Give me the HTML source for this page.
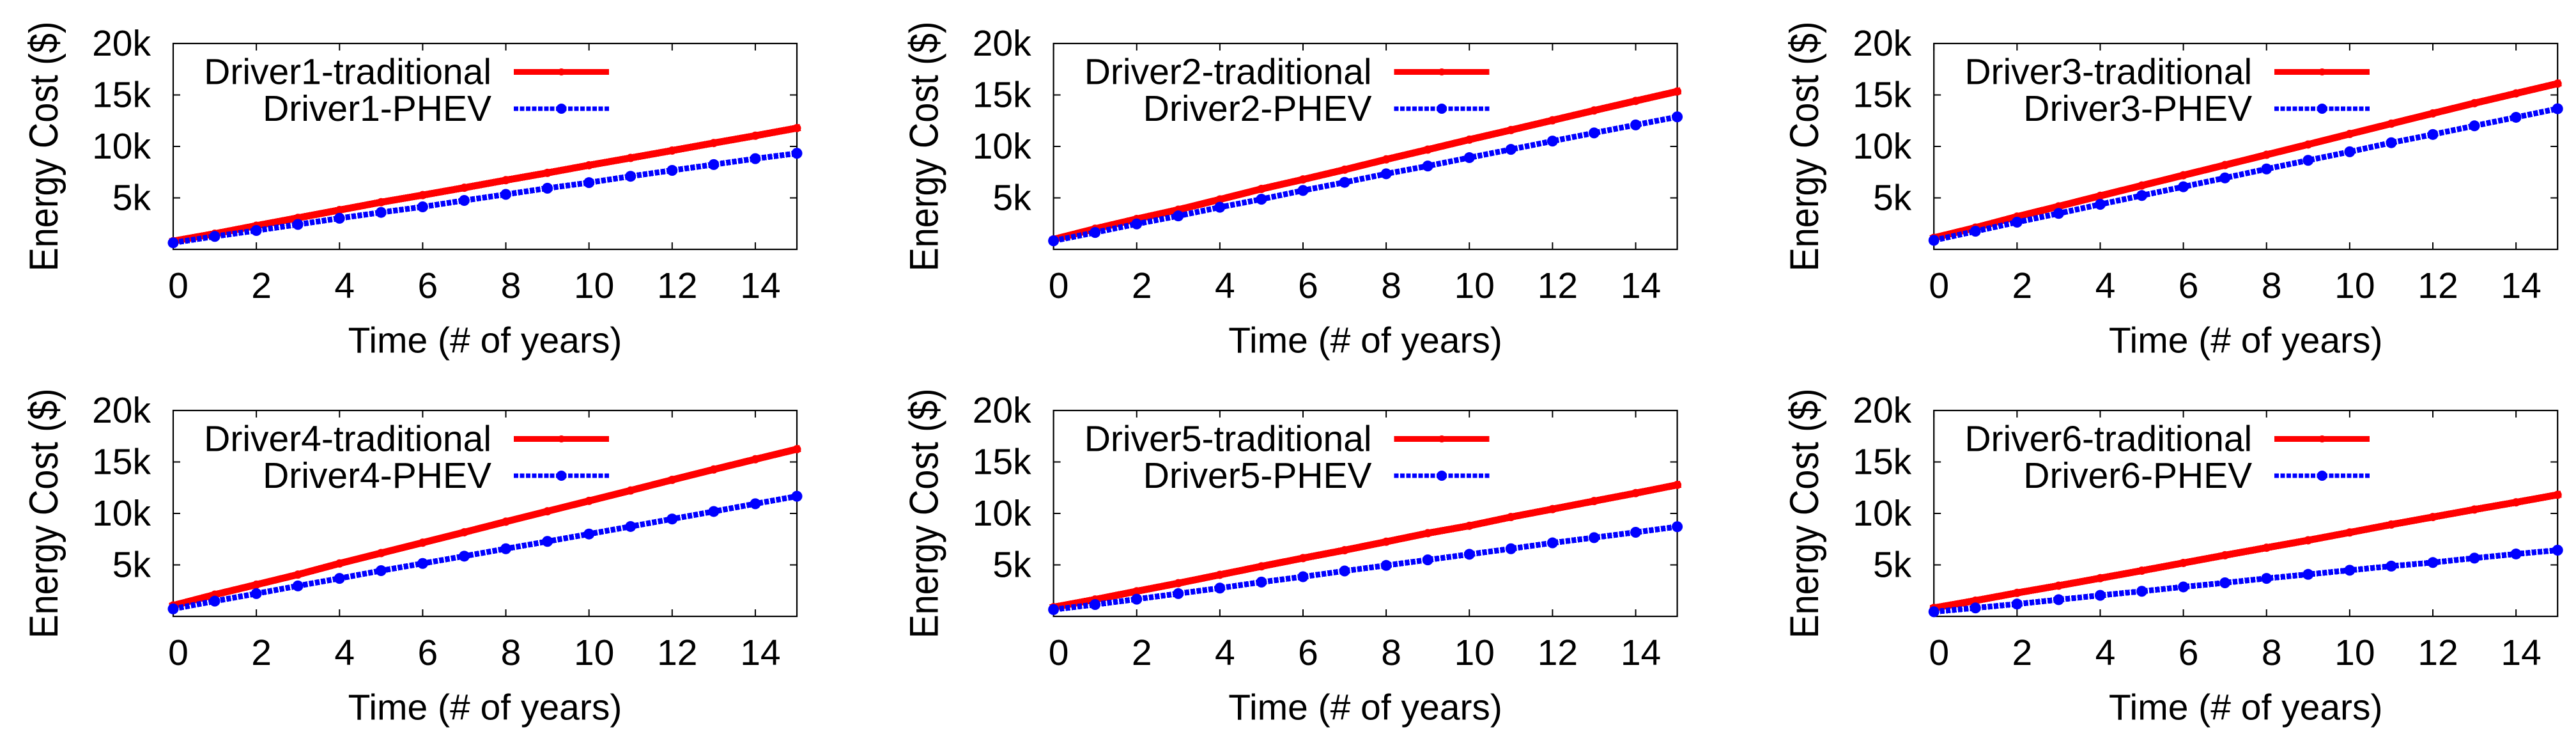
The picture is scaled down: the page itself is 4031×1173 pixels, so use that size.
<!DOCTYPE html>
<html lang="en">
<head>
<meta charset="utf-8">
<title>Energy cost: traditional vs PHEV for six drivers</title>
<style>
html,body{margin:0;padding:0;background:#fff;width:4031px;height:1173px;overflow:hidden}
svg{display:block}
text{font-family:"Liberation Sans",Arial,sans-serif;fill:#000;font-size:57px}
</style>
</head>
<body>
<svg id="chart" xmlns="http://www.w3.org/2000/svg" width="4031" height="1173" viewBox="0 0 4031 1173"></svg>
<script>
const years = [0,1,2,3,4,5,6,7,8,9,10,11,12,13,14,15];
const xTickValues = [0,2,4,6,8,10,12,14];
const xTickLabels = ['0','2','4','6','8','10','12','14'];
const yTickValues = [5000,10000,15000,20000];
const yTickLabels = ['5k','10k','15k','20k'];
const xAxisTitle = 'Time (# of years)';
const yAxisTitle = 'Energy Cost ($)';
const traditionalLabels = ['Driver1-traditional','Driver2-traditional','Driver3-traditional','Driver4-traditional','Driver5-traditional','Driver6-traditional'];
const phevLabels = ['Driver1-PHEV','Driver2-PHEV','Driver3-PHEV','Driver4-PHEV','Driver5-PHEV','Driver6-PHEV'];

const traditional1 = [800,1520,2300,3060,3820,4580,5270,5985,6720,7430,8170,8880,9600,10330,11040,11780];
const phev1 = [640,1260,1830,2420,3020,3590,4130,4750,5340,5940,6480,7100,7670,8240,8810,9330];
const traditional2 = [970,2000,2950,3850,4850,5870,6790,7740,8740,9690,10660,11590,12540,13490,14420,15340];
const phev2 = [830,1640,2470,3250,4090,4870,5720,6510,7340,8100,8910,9710,10520,11310,12090,12870];
const traditional3 = [1120,2110,3180,4180,5200,6200,7200,8190,9190,10190,11210,12210,13210,14200,15150,16100];
const phev3 = [880,1760,2640,3490,4370,5230,6080,6940,7810,8650,9480,10360,11160,12000,12830,13660];
const traditional4 = [1060,2110,3080,4060,5140,6150,7160,8170,9200,10210,11220,12230,13260,14270,15260,16240];
const phev4 = [730,1480,2210,2960,3690,4440,5140,5850,6570,7280,8000,8730,9460,10190,10940,11670];
const traditional5 = [890,1640,2440,3220,4040,4860,5660,6430,7250,8080,8800,9650,10420,11200,11970,12770];
const phev5 = [660,1150,1670,2210,2750,3330,3850,4410,4950,5490,6030,6570,7140,7650,8170,8710];
const traditional6 = [820,1530,2280,2980,3710,4440,5190,5940,6670,7390,8150,8920,9650,10380,11080,11810];
const phev6 = [450,820,1200,1620,2040,2440,2860,3260,3690,4080,4480,4880,5230,5660,6060,6430];

const traditionalSeries = [traditional1,traditional2,traditional3,traditional4,traditional5,traditional6];
const phevSeries = [phev1,phev2,phev3,phev4,phev5,phev6];

const SVG_NS = 'http://www.w3.org/2000/svg';
const root = document.getElementById('chart');
const plotWidth = 976, plotHeight = 322;
const xMax = 15, yMax = 20000;
const RED = '#ff0000', BLUE = '#0000ff';

function make(tag, parent, attrs, content) {
  const node = document.createElementNS(SVG_NS, tag);
  for (const key in attrs) node.setAttribute(key, attrs[key]);
  if (content !== undefined) node.textContent = content;
  parent.appendChild(node);
  return node;
}
function panelLeft(col) { return 271 + col * 1377.6; }
function panelTop(row) { return 68 + row * 574; }
function xScale(left, v) { return left + v / xMax * plotWidth; }
function yScale(top, v) { return top + plotHeight - v / yMax * plotHeight; }

function drawSeries(parent, left, top, values, kind) {
  const isRed = kind === 'traditional';
  const pts = values.map((v, i) => xScale(left, years[i]).toFixed(2) + ',' + yScale(top, v).toFixed(2)).join(' ');
  const line = make('polyline', parent, {
    points: pts, fill: 'none', stroke: isRed ? RED : BLUE,
    'stroke-width': isRed ? 11 : 9,
    'stroke-linecap': isRed ? 'square' : 'butt',
    'stroke-linejoin': 'miter',
    'stroke-dasharray': isRed ? 'none' : '7.3 2.1',
    'shape-rendering': 'crispEdges'
  });
  
  
  values.forEach((v, i) => {
    const dot = make('circle', parent, {
      cx: xScale(left, years[i]).toFixed(2), cy: yScale(top, v).toFixed(2),
      r: isRed ? 6.5 : 8.5, fill: isRed ? RED : BLUE
    });
    
    
  });
}

function drawLegendEntry(parent, left, top, label, kind, offset) {
  const isRed = kind === 'traditional';
  const g = make('g', parent, {});
  
  
  const t = make('text', g, { x: left + 498, y: top + offset + 19, 'text-anchor': 'end' }, label);
  
  
  const sample = make('line', g, {
    x1: left + 533, x2: left + 682, y1: top + offset, y2: top + offset,
    stroke: isRed ? RED : BLUE, 'stroke-width': isRed ? 9 : 7,
    'stroke-dasharray': isRed ? 'none' : '7 2.45',
    'shape-rendering': 'crispEdges'
  });
  
  
  const mark = make('circle', g, { cx: left + 607.5, cy: top + offset, r: isRed ? 5.5 : 8, fill: isRed ? RED : BLUE });
  
  
}

function drawPanel(index) {
  const col = index % 3, row = Math.floor(index / 3);
  const left = panelLeft(col), top = panelTop(row);
  const bottom = top + plotHeight, right = left + plotWidth;
  const g = make('g', root, {});
  
  

  xTickValues.forEach((v, i) => {
    const x = xScale(left, v);
    const tickB = make('line', g, { x1: x, x2: x, y1: bottom, y2: bottom - 11, stroke: '#000', 'stroke-width': 2 });
    
    
    const tickT = make('line', g, { x1: x, x2: x, y1: top, y2: top + 11, stroke: '#000', 'stroke-width': 2 });
    
    
    const label = make('text', g, { x: x + 8, y: bottom + 76, 'text-anchor': 'middle' }, xTickLabels[i]);
    
    
  });

  yTickValues.forEach((v, i) => {
    const y = yScale(top, v);
    const tickL = make('line', g, { x1: left, x2: left + 11, y1: y, y2: y, stroke: '#000', 'stroke-width': 2 });
    
    
    const tickR = make('line', g, { x1: right, x2: right - 11, y1: y, y2: y, stroke: '#000', 'stroke-width': 2 });
    
    
    const label = make('text', g, { x: left - 35, y: y + 19, 'text-anchor': 'end' }, yTickLabels[i]);
    
    
  });

  const frame = make('rect', g, { x: left, y: top, width: plotWidth, height: plotHeight, fill: 'none', stroke: '#000', 'stroke-width': 2.2 });
  
  

  drawLegendEntry(g, left, top, traditionalLabels[index], 'traditional', 44.5);
  drawLegendEntry(g, left, top, phevLabels[index], 'phev', 102);

  drawSeries(g, left, top, traditionalSeries[index], 'traditional');
  drawSeries(g, left, top, phevSeries[index], 'phev');

  const xTitle = make('text', g, { x: left + 488, y: bottom + 161.5, 'text-anchor': 'middle' }, xAxisTitle);
  
  
  const yTitle = make('text', g, {
    transform: 'translate(' + (left - 181) + ',' + (top + 161) + ') rotate(-90) scale(0.98,1.1)',
    'text-anchor': 'middle'
  }, yAxisTitle);
  
  
}

for (let i = 0; i < traditionalSeries.length; i++) drawPanel(i);
</script>
</body>
</html>
